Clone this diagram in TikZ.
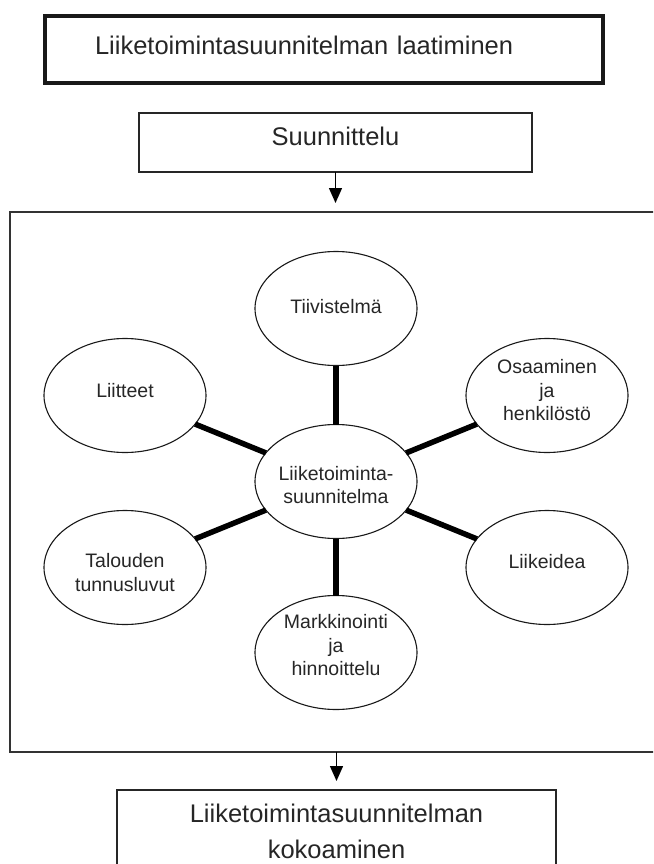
\documentclass[tikz,border=0pt]{standalone}
\usepackage{fontspec}
\setmainfont{Liberation Sans}
\usetikzlibrary{shapes.geometric,arrows.meta}

\begin{document}
\begin{tikzpicture}[x=1pt,y=-1pt,
  every node/.style={inner sep=0pt, outer sep=0pt},
  boxtext/.style={font=\fontsize{25.5}{36}\selectfont, text=black!85},
  titlebox/.style={draw=black!90, line width=3.5pt, boxtext,
    minimum width=558pt, minimum height=67pt, text width=458pt,
    align=left, inner xsep=50pt, text height=18pt, text depth=7pt},
  stagebox/.style={draw=black!85, line width=1.2pt, boxtext},
  framebox/.style={draw=black!80, line width=1.5pt,
    minimum width=652pt, minimum height=540pt},
  bubble/.style={ellipse, draw=black!90, line width=1.1pt,
    minimum width=162pt, minimum height=114pt},
  bubtext/.style={font=\fontsize{19.5}{23.5}\selectfont, align=center, text=black!85},
  spoke/.style={line width=5.5pt, black},
  flow/.style={line width=1.4pt, draw=black,
    -{Triangle[width=13pt,length=15pt]}, shorten >=9pt},
]
\clip (0,0) rectangle (653,864);

% process boxes
\node[titlebox] (plan) at (324,49.5) {Liiketoimintasuunnitelman laatiminen};
\node[stagebox, minimum width=393pt, minimum height=59pt,
      text height=18pt, text depth=13pt] (suun) at (335.5,142.5) {Suunnittelu};
\node[framebox] (frame) at (336,482) {};
\node[stagebox, anchor=north, align=center, inner ysep=13.8pt,
      minimum width=439pt] (kooste) at (336.5,790)
      {Liiketoimintasuunnitelman\\kokoaminen};

% mind map of the plan's parts
\node[bubble] (hub)  at (336,481.5) {};
\node[bubble] (tiiv) at (336,308.5) {};
\node[bubble] (liit) at (125,395.5) {};
\node[bubble] (osaa) at (547,395.5) {};
\node[bubble] (talo) at (125,567.5) {};
\node[bubble] (liik) at (547,567.5) {};
\node[bubble] (mark) at (336,652.5) {};

\node[bubtext, yshift=-3.5pt] (hubT)  at (hub)  {Liiketoiminta-\\suunnitelma};
\node[bubtext, yshift=2pt]    (tiivT) at (tiiv) {Tiivistelmä};
\node[bubtext, yshift=5pt]    (liitT) at (liit) {Liitteet};
\node[bubtext, yshift=5pt]    (osaaT) at (osaa) {Osaaminen\\ja\\henkilöstö};
\node[bubtext, yshift=-5pt]   (taloT) at (talo) {Talouden\\tunnusluvut};
\node[bubtext, yshift=6pt]    (liikT) at (liik) {Liikeidea};
\node[bubtext, yshift=7pt]    (markT) at (mark) {Markkinointi\\ja\\hinnoittelu};

\foreach \n in {tiiv,liit,osaa,talo,liik,mark}
  \draw[spoke] (hub) -- (\n);

% flow between stages
\draw[flow] (suun.south) -- (suun.south |- frame.north);
\draw[flow] (frame.south -| kooste.north) -- (kooste.north);
\end{tikzpicture}
\end{document}
